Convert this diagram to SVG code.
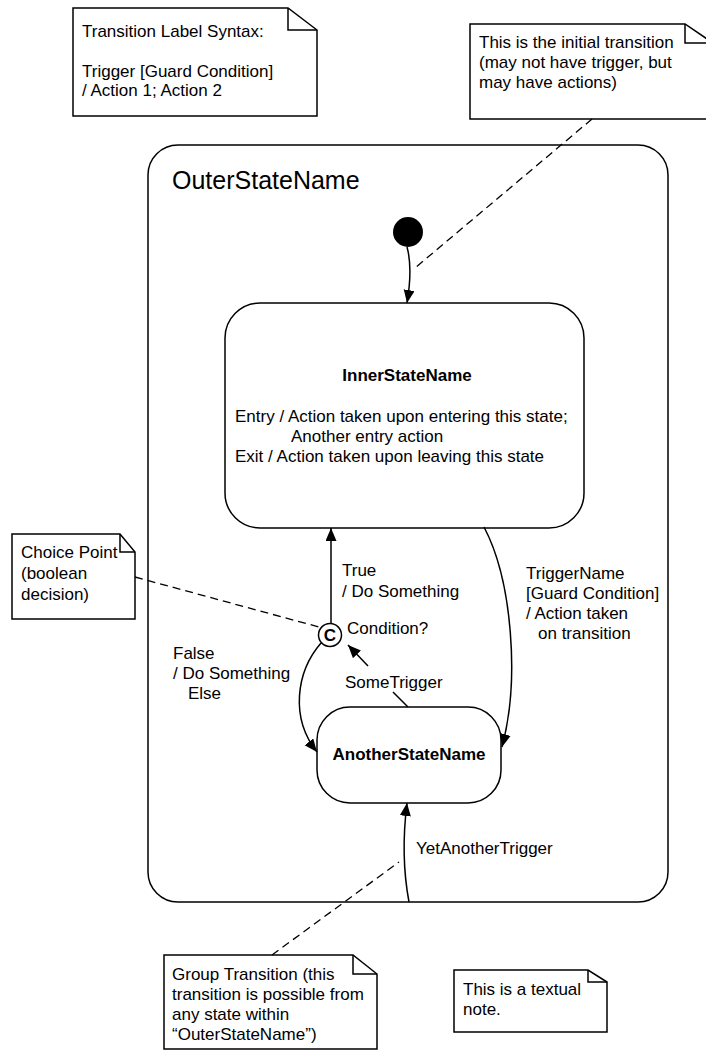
<svg xmlns="http://www.w3.org/2000/svg" width="706" height="1051" viewBox="0 0 706 1051">
<style>
.shape{fill:#fff;stroke:#000;stroke-width:1.5}
.line{fill:none;stroke:#000;stroke-width:1.5}
.dash{fill:none;stroke:#000;stroke-width:1.3;stroke-dasharray:8 5}
text{font-family:"Liberation Sans",Arial,sans-serif;font-size:17px;fill:#000}
.b{font-weight:bold}
.mid{text-anchor:middle}
</style>
<defs>
<marker id="arr" markerUnits="userSpaceOnUse" markerWidth="14" markerHeight="12" refX="13" refY="5.5" orient="auto">
<path d="M0,0 L13,5.5 L0,11 Z" fill="#000"/>
</marker>
</defs>
<rect width="706" height="1051" fill="#fff"/>

<g id="note-syntax">
<path class="shape" d="M73 8 H288 L317 30 V116 H73 Z"/>
<path class="line" d="M288 8 V30 H317"/>
<text x="82" y="37">Transition Label Syntax:</text>
<text x="82" y="77">Trigger [Guard Condition]</text>
<text x="82" y="96">/ Action 1; Action 2</text>
</g>

<g id="note-initial">
<path class="shape" d="M470 24 H685 L713 43 V119 H470 Z"/>
<path class="line" d="M685 24 V43 H713"/>
<text x="479" y="48">This is the initial transition</text>
<text x="479" y="68">(may not have trigger, but</text>
<text x="479" y="88">may have actions)</text>
</g>

<g id="outer-state">
<rect class="shape" x="148" y="145" width="520" height="757" rx="30" ry="30"/>
<text x="172" y="189" style="font-size:25px">OuterStateName</text>
</g>

<g id="initial">
<circle cx="408" cy="232" r="15" fill="#000"/>
</g>

<g id="inner-state">
<rect class="shape" x="225" y="303" width="359" height="225" rx="35" ry="35"/>
<text class="b mid" x="407" y="381">InnerStateName</text>
<text x="235" y="422">Entry / Action taken upon entering this state;</text>
<text x="291" y="442">Another entry action</text>
<text x="235" y="462">Exit / Action taken upon leaving this state</text>
</g>

<g id="another-state">
<rect class="shape" x="317" y="707" width="184" height="96" rx="33" ry="33"/>
<text class="b mid" x="409" y="760">AnotherStateName</text>
</g>

<g id="choice">
<circle class="shape" cx="330" cy="635" r="11.5"/>
<text class="b mid" x="330" y="641" style="font-size:17px">C</text>
</g>

<g id="note-choice">
<path class="shape" d="M12 534 H120 L135 552 V619 H12 Z"/>
<path class="line" d="M120 534 V552 H135"/>
<text x="21" y="558">Choice Point</text>
<text x="21" y="579">(boolean</text>
<text x="21" y="600">decision)</text>
</g>

<g id="note-group">
<path class="shape" d="M164 955 H353 L377 974 V1049 H164 Z"/>
<path class="line" d="M353 955 V974 H377"/>
<text x="172" y="980">Group Transition (this</text>
<text x="172" y="1000">transition is possible from</text>
<text x="172" y="1020">any state within</text>
<text x="172" y="1040">“OuterStateName”)</text>
</g>

<g id="note-textual">
<path class="shape" d="M454 970 H588 L607 982 V1032 H454 Z"/>
<path class="line" d="M588 970 V982 H607"/>
<text x="463" y="995">This is a textual</text>
<text x="463" y="1015">note.</text>
</g>

<g id="connectors">
<path class="line" d="M407 247 C412 265 410 285 407 303" marker-end="url(#arr)"/>
<path class="line" d="M331 623 V528" marker-end="url(#arr)"/>
<path class="line" d="M321 643 C296 672 290 718 317 752" marker-end="url(#arr)"/>
<path class="line" d="M484 527 C512 580 520 680 502 747" marker-end="url(#arr)"/>
<path class="line" d="M408 707 L393 692"/>
<path class="line" d="M368 666 L348 645" marker-end="url(#arr)"/>
<path class="line" d="M409 902 C403 870 403 835 407 803" marker-end="url(#arr)"/>
<path class="dash" d="M592 119 L415 268"/>
<path class="dash" d="M135 577 L319 627"/>
<path class="dash" d="M272 955 L399 862"/>
<text x="342" y="576">True</text>
<text x="342" y="597">/ Do Something</text>
<text x="347" y="634">Condition?</text>
<text x="173" y="659">False</text>
<text x="173" y="679">/ Do Something</text>
<text x="188" y="699">Else</text>
<text x="526" y="579">TriggerName</text>
<text x="526" y="599">[Guard Condition]</text>
<text x="526" y="619">/ Action taken</text>
<text x="538" y="639">on transition</text>
<text x="345" y="688">SomeTrigger</text>
<text x="416" y="854">YetAnotherTrigger</text>
</g>
</svg>
